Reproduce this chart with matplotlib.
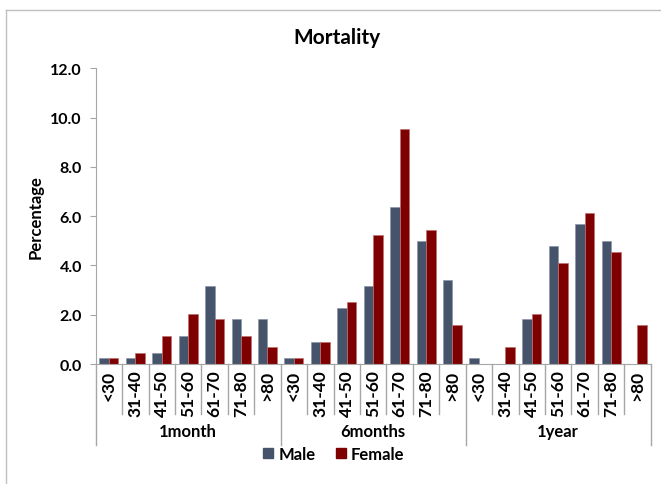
import numpy as np
import matplotlib.pyplot as plt
from matplotlib.lines import Line2D
from matplotlib.patches import Patch

plt.rcParams['font.family'] = ['Lato', 'DejaVu Sans']
plt.rcParams['font.weight'] = 'bold'

ages = ['<30', '31-40', '41-50', '51-60', '61-70', '71-80', '>80']
periods = ['1month', '6months', '1year']

male = [0.23, 0.23, 0.45, 1.14, 3.18, 1.82, 1.82,
        0.23, 0.91, 2.27, 3.18, 6.36, 5.00, 3.41,
        0.23, 0.00, 1.82, 4.77, 5.68, 5.00, 0.00]
female = [0.23, 0.45, 1.14, 2.05, 1.82, 1.14, 0.68,
          0.23, 0.91, 2.50, 5.23, 9.55, 5.45, 1.59,
          0.00, 0.68, 2.05, 4.09, 6.14, 4.55, 1.59]

male_col = '#46546B'
female_col = '#7F0000'

fig = plt.figure(figsize=(6.61, 4.85), dpi=100)
ax = fig.add_axes([0.1448, 0.2474, 0.8396, 0.6096])

n = len(male)
x = np.arange(n)
w = 0.36
ax.bar(x - w/2, male, w, color=male_col, edgecolor='#8A96A8', linewidth=0.5)
ax.bar(x + w/2, female, w, color=female_col, edgecolor='#C07070', linewidth=0.5)

ax.set_xlim(-0.5, n - 0.5)
ax.set_ylim(0, 12)
ax.set_yticks(np.arange(0, 12.1, 2))
ax.set_yticklabels(['%.1f' % v for v in np.arange(0, 12.1, 2)], fontsize=11.5, fontweight='bold')
ax.tick_params(axis='y', length=4, color='#A6A6A6', pad=6)

ax.set_xticks(x)
ax.set_xticklabels(ages * len(periods), rotation=90, fontsize=12.5, fontweight='bold')
ax.tick_params(axis='x', length=0, pad=4)

for s in ['top', 'right']:
    ax.spines[s].set_visible(False)
ax.spines['left'].set_color('#A6A6A6')
ax.spines['bottom'].set_color('#A6A6A6')

# multi-level category separators
trans = ax.get_xaxis_transform()
for i in range(n + 1):
    pos = i - 0.5
    ybot = -0.274 if i % len(ages) == 0 else -0.169
    ax.add_line(Line2D([pos, pos], [0, ybot], transform=trans, color='#A6A6A6',
                       linewidth=1, clip_on=False))
for j, p in enumerate(periods):
    cx = j * len(ages) + (len(ages) - 1) / 2
    ax.text(cx, -0.228, p, transform=trans, ha='center', va='center',
            fontsize=12, fontweight='bold')

ax.set_ylabel('Percentage', fontsize=12, fontweight='bold', labelpad=5)
fig.text(0.51, 0.922, 'Mortality', ha='center', va='center', fontsize=15, fontweight='bold')

handles = [Patch(color=male_col, label='Male'), Patch(color=female_col, label='Female')]
fig.legend(handles=handles, loc='center', bbox_to_anchor=(0.505, 0.062), ncol=2,
           frameon=False, fontsize=12, handlelength=0.6, handleheight=0.6,
           handletextpad=0.3, columnspacing=1.2)

# outer chart border
fig.add_artist(Line2D([0.0095, 0.0095], [0, 0.977], transform=fig.transFigure,
                      color='#BFBFBF', linewidth=1))
fig.add_artist(Line2D([0.0095, 1], [0.977, 0.977], transform=fig.transFigure,
                      color='#BFBFBF', linewidth=1))

fig.savefig('out.png', dpi=100)
